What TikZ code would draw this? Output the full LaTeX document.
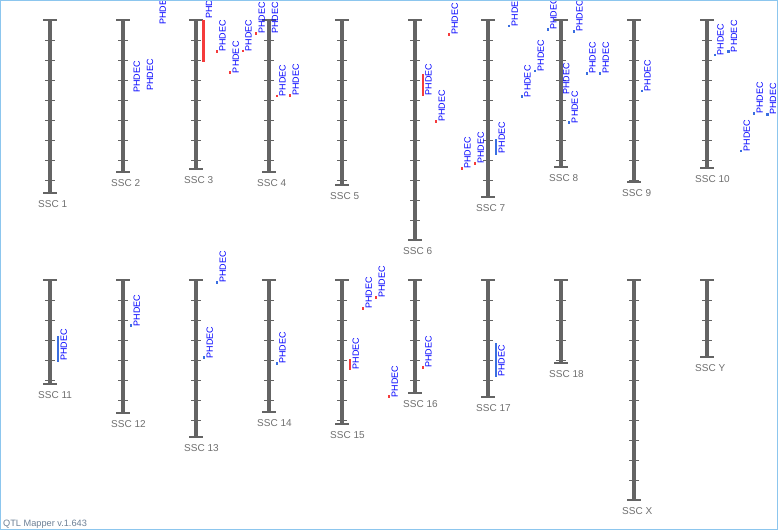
\documentclass[tikz,border=0pt]{standalone}
\usepackage{fontspec}
\setmainfont{Liberation Sans}
\definecolor{barc}{HTML}{646464}
\definecolor{labc}{HTML}{6F6F6F}
\definecolor{qred}{HTML}{F53B3B}
\definecolor{qblue}{HTML}{3A6EE0}
\definecolor{qtext}{HTML}{0000FF}
\definecolor{framec}{HTML}{8CC6EE}
\definecolor{footc}{HTML}{6D8096}
\tikzset{
 chbar/.style={draw=barc, line width=4.5pt},
 chcap/.style={draw=barc, line width=1.4pt},
 chtick/.style={draw=barc, line width=1pt},
 chlab/.style={text=labc, font=\fontsize{10}{10}\selectfont, inner sep=0pt, anchor=base west},
 qlab/.style={text=qtext, font=\fontsize{9}{9}\selectfont, inner sep=0pt, rotate=90, anchor=north west},
 qmark/.style={line width=2.4pt},
 footlab/.style={text=footc, font=\fontsize{9.2}{9.2}\selectfont, inner sep=0pt, anchor=base west},
}
\newcommand\chrom[5]{%
 \coordinate (#1t) at (#2,#3);
 \coordinate (#1b) at (#2,#4);
 \draw[chbar] (#1t) -- (#1b);
 \foreach \k in {1,...,12}{%
   \pgfmathsetmacro\ty{#3+20*\k}%
   \pgfmathtruncatemacro\ok{(\ty<#4+0.5)}%
   \ifnum\ok=1 \draw[chtick] (#2-5,\ty) -- (#2+5,\ty);\fi
 }
 \draw[chcap] (#2-7,#3) -- (#2+7,#3);
 \draw[chcap] (#2-7,#4) -- (#2+7,#4);
 \node[chlab] (#1l) at (#2-12,#4+14) {#5};
}
\newcommand\qtl[6]{%
 \draw[qmark,#2] (#3,#4) -- (#3,#5);
 \node[qlab] (#1) at (#3+2.4,#6) {PHDEC};
}
\newcommand\qpt[4]{%
 \draw[qmark,#2] (#3,#4-1.3) -- (#3,#4+1.3);
 \node[qlab] (#1) at (#3+2.4,#4+0.5) {PHDEC};
}
\newcommand\qtx[3]{%
 \node[qlab] (#1) at (#2,#3) {PHDEC};
}
\begin{document}
\begin{tikzpicture}[x=1pt,y=-1pt]
\useasboundingbox (0,0) rectangle (778,530);
\begin{scope}
\clip (0,0) rectangle (778,530);
\fill[white] (0,0) rectangle (778,530);
% top row
\chrom{c1}{50}{20}{193}{SSC 1}
\chrom{c2}{123}{20}{172}{SSC 2}
\chrom{c3}{196}{20}{169}{SSC 3}
\chrom{c4}{269}{20}{172}{SSC 4}
\chrom{c5}{342}{20}{185}{SSC 5}
\chrom{c6}{415}{20}{240}{SSC 6}
\chrom{c7}{488}{20}{197}{SSC 7}
\chrom{c8}{561}{20}{167}{SSC 8}
\chrom{c9}{634}{20}{182}{SSC 9}
\chrom{c10}{707}{20}{168}{SSC 10}
% bottom row
\chrom{c11}{50}{280}{384}{SSC 11}
\chrom{c12}{123}{280}{413}{SSC 12}
\chrom{c13}{196}{280}{437}{SSC 13}
\chrom{c14}{269}{280}{412}{SSC 14}
\chrom{c15}{342}{280}{424}{SSC 15}
\chrom{c16}{415}{280}{393}{SSC 16}
\chrom{c17}{488}{280}{397}{SSC 17}
\chrom{c18}{561}{280}{363}{SSC 18}
\chrom{cX}{634}{280}{500}{SSC X}
\chrom{cY}{707}{280}{357}{SSC Y}
% QTLs top row
\qtx{q2a}{133.3}{93}
\qtx{q2b}{146.7}{90.7}
\qtx{q2c}{159.3}{25}
\qtl{q3a}{qred}{203.3}{20}{62}{19}
\qpt{q3b}{qred}{216.7}{51.3}
\qpt{q3c}{qred}{230}{72.7}
\qpt{q3d}{qred}{242.7}{51}
\qpt{q3e}{qred}{256}{33.3}
\qtx{q4a}{271.7}{34}
\qpt{q4b}{qred}{276.7}{96}
\qpt{q4c}{qred}{290}{95.3}
\qpt{q6a}{qred}{449}{34.3}
\qtl{q6b}{qred}{422.7}{74}{96}{95.5}
\qpt{q6c}{qred}{436}{121.3}
\qpt{q6d}{qred}{461.7}{168.3}
\qpt{q6e}{qred}{475}{163.3}
\qtl{q7a}{qblue}{496}{139}{155}{153.5}
\qpt{q7b}{qblue}{509}{26}
\qpt{q7c}{qblue}{521.7}{96.7}
\qpt{q7d}{qblue}{535}{71}
\qpt{q7e}{qblue}{547.7}{29.3}
\qtx{q8a}{563}{95}
\qpt{q8b}{qblue}{569}{122.7}
\qpt{q8c}{qblue}{573.7}{31.3}
\qpt{q8d}{qblue}{586.7}{73.3}
\qpt{q8e}{qblue}{600}{73.3}
\qpt{q9a}{qblue}{641.7}{91}
\qpt{q10a}{qblue}{714.7}{55}
\qpt{q10b}{qblue}{728.3}{51.7}
\qpt{q10c}{qblue}{741}{151}
\qpt{q10d}{qblue}{754}{113.3}
\qpt{q10e}{qblue}{767.3}{114.3}
% QTLs bottom row
\qtl{q11a}{qblue}{58}{336}{362}{361}
\qpt{q12a}{qblue}{131}{325.7}
\qpt{q13a}{qblue}{204}{357.7}
\qpt{q13b}{qblue}{217}{282.3}
\qpt{q14a}{qblue}{276.7}{363.3}
\qtl{q15a}{qred}{350}{359}{370}{369.5}
\qpt{q15b}{qred}{363}{308.3}
\qpt{q15c}{qred}{376}{297.3}
\qpt{q15d}{qred}{389}{396.7}
\qpt{q16a}{qred}{422.7}{367.3}
\qtl{q17a}{qblue}{495.7}{343}{377}{377}
% footer
\node[footlab] (ver) at (3,526.5) {QTL Mapper v.1.643};
\end{scope}
\draw[framec, line width=1pt] (0.5,0.5) rectangle (777.5,529.5);
\end{tikzpicture}
\end{document}
